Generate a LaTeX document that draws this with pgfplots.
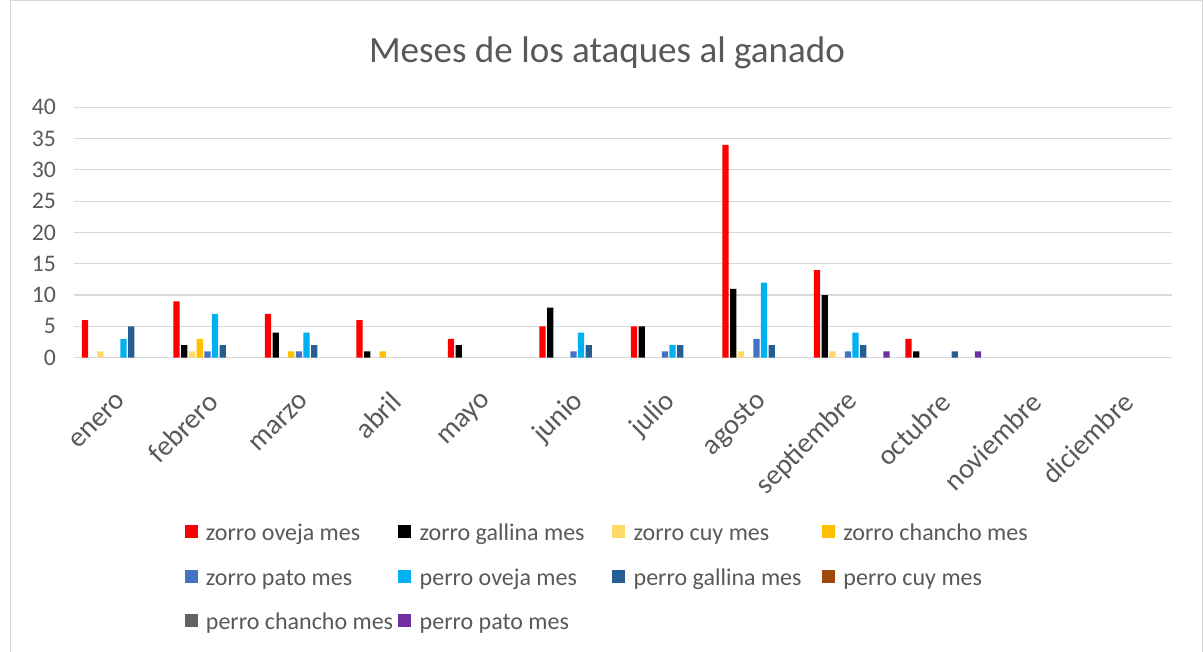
\documentclass[border=0pt]{standalone}
\usepackage{fontspec}
\setmainfont{Carlito}
\usepackage{pgfplots}
\usepackage{pgfplotstable}
\pgfplotsset{compat=1.18}
\definecolor{txt}{HTML}{595959}
\definecolor{grd}{HTML}{D9D9D9}
\definecolor{cZO}{HTML}{FF0000}
\definecolor{cZG}{HTML}{000000}
\definecolor{cZC}{HTML}{FFD966}
\definecolor{cZCh}{HTML}{FFC000}
\definecolor{cZP}{HTML}{4472C4}
\definecolor{cPO}{HTML}{00B0F0}
\definecolor{cPG}{HTML}{255E91}
\definecolor{cPC}{HTML}{9E480E}
\definecolor{cPCh}{HTML}{636363}
\definecolor{cPP}{HTML}{7030A0}
\pgfplotstableread{
x zo zg zc zch zp po pg pc pch pp
0  6  0  1 0 0  3 5 0 0 0
1  9  2  1 3 1  7 2 0 0 0
2  7  4  0 1 1  4 2 0 0 0
3  6  1  0 1 0  0 0 0 0 0
4  3  2  0 0 0  0 0 0 0 0
5  5  8  0 0 1  4 2 0 0 0
6  5  5  0 0 1  2 2 0 0 0
7 34 11  1 0 3 12 2 0 0 0
8 14 10  1 0 1  4 2 0 0 1
9  3  1  0 0 0  0 1 0 0 1
10 0  0  0 0 0  0 0 0 0 0
11 0  0  0 0 0  0 0 0 0 0
}\datatable
\begin{document}
\begin{tikzpicture}
\useasboundingbox (0,0) rectangle (903pt,488.25pt);
\fill[white] (0,0) rectangle (903pt,488.25pt);
\draw[grd, line width=0.75pt] (7.5pt,-2pt) -- (7.5pt,487.9pt) -- (901.5pt,487.9pt) -- (901.5pt,-2pt);
\node[text=txt, font=\fontsize{27.8pt}{33pt}\selectfont] at (455.25pt,448.5pt) {Meses de los ataques al ganado};
\begin{axis}[
  at={(55.5pt,219.98pt)}, anchor=south west,
  scale only axis, width=823.5pt, height=187.8pt,
  ybar, bar width=4.7pt,
  xmin=-0.5, xmax=11.5, ymin=0, ymax=40,
  xtick={0,...,11},
  xticklabels={enero,febrero,marzo,abril,mayo,junio,julio,agosto,septiembre,octubre,noviembre,diciembre},
  ytick={0,5,...,40},
  ymajorgrids, grid style={grd, line width=0.9pt},
  axis x line*=bottom, axis y line*=left,
  x axis line style={grd, line width=0.9pt},
  y axis line style={draw=none},
  major tick length=0pt,
  tick label style={text=txt},
  yticklabel style={font=\fontsize{17.8pt}{21pt}\selectfont, anchor=east, xshift=-10pt},
  /pgf/number format/assume math mode=true,
  xticklabel style={font=\fontsize{21.3pt}{25pt}\selectfont, rotate=45, anchor=east, yshift=-22pt, xshift=-16.5pt},
  nz/.style={y filter/.expression={y==0 ? nan : y}, unbounded coords=discard},
  legend columns=4,
  legend cell align=left,
  legend style={at={(0.1005,-0.652)}, anchor=north west, draw=none, fill=none,
    font=\fontsize{18pt}{21pt}\selectfont, text=txt,
    nodes={text height=12.5pt, text depth=4pt, inner xsep=2.25pt},
    /tikz/every odd column/.style={column sep=4pt},
    /tikz/column 2/.style={column sep=1.7pt},
    /tikz/column 4/.style={column sep=18.5pt},
    /tikz/column 6/.style={column sep=13.2pt},
    row sep=12.9pt, inner sep=0pt},
  legend image code/.code={\fill[#1] (0pt,-2.5pt) rectangle (9.75pt,7.25pt);},
]
\pgfplotsset{every axis plot/.append style={draw=none, /pgf/bar shift={(\plotnumofactualtype-4.5)*5.775pt}}}
\addplot[fill=cZO, nz]  table[x=x,y=zo]  {\datatable};
\addlegendentry{zorro oveja mes}
\addplot[fill=cZG, nz]  table[x=x,y=zg]  {\datatable};
\addlegendentry{zorro gallina mes}
\addplot[fill=cZC, nz]  table[x=x,y=zc]  {\datatable};
\addlegendentry{zorro cuy mes}
\addplot[fill=cZCh, nz] table[x=x,y=zch] {\datatable};
\addlegendentry{zorro chancho mes}
\addplot[fill=cZP, nz]  table[x=x,y=zp]  {\datatable};
\addlegendentry{zorro pato mes}
\addplot[fill=cPO, nz]  table[x=x,y=po]  {\datatable};
\addlegendentry{perro oveja mes}
\addplot[fill=cPG, nz]  table[x=x,y=pg]  {\datatable};
\addlegendentry{perro gallina mes}
\addplot[fill=none, legend image code/.code={\fill[cPC] (0pt,-2.5pt) rectangle (9.75pt,7.25pt);}] table[x=x,y=pc]  {\datatable};
\addlegendentry{perro cuy mes}
\addplot[fill=none, legend image code/.code={\fill[cPCh] (0pt,-2.5pt) rectangle (9.75pt,7.25pt);}] table[x=x,y=pch] {\datatable};
\addlegendentry{perro chancho mes}
\addplot[fill=cPP, nz]  table[x=x,y=pp]  {\datatable};
\addlegendentry{perro pato mes}
\end{axis}
\end{tikzpicture}
\end{document}
